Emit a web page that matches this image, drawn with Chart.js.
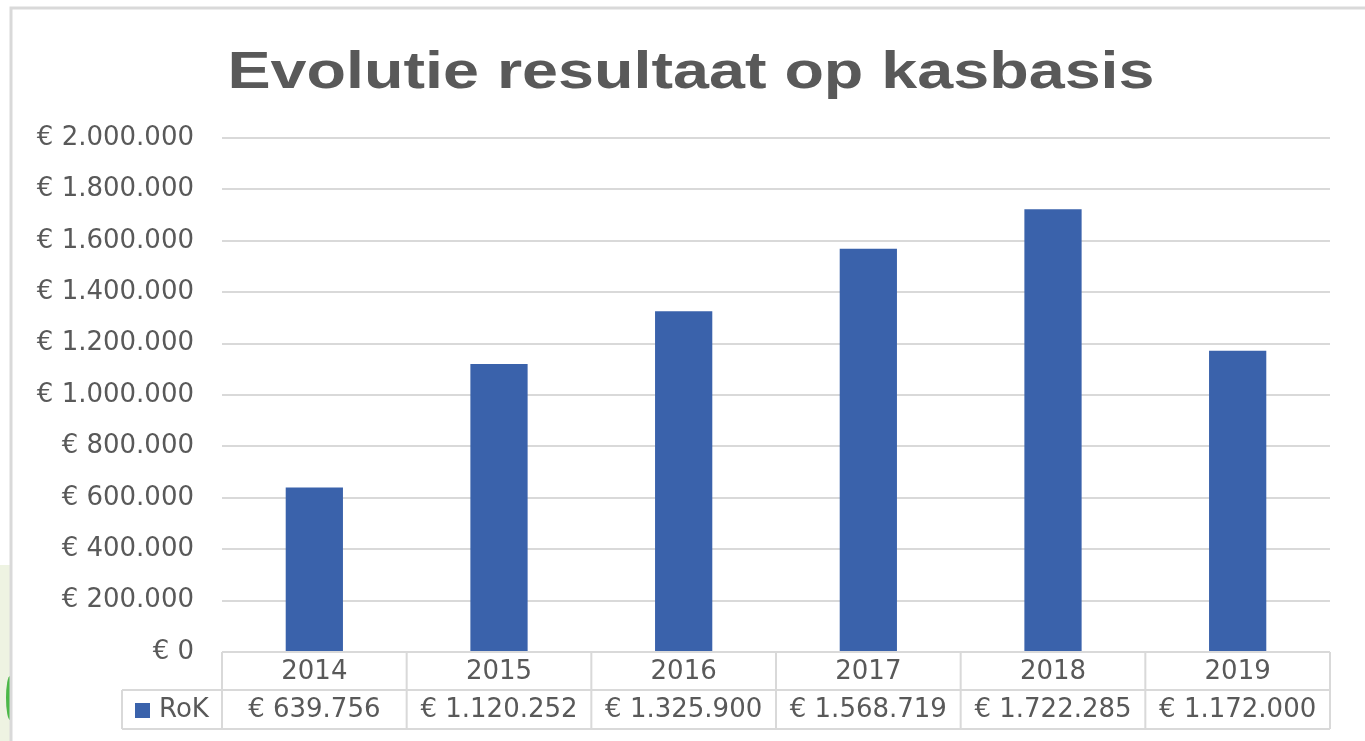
<!DOCTYPE html>
<html>
<head>
<meta charset="utf-8">
<script src="https://cdn.jsdelivr.net/npm/chart.js@4.4.0/dist/chart.umd.min.js"></script>
<style>
  html, body { margin: 0; padding: 0; background: #fff; }
  #wrap { width: 1365px; height: 741px; position: relative; }
</style>
</head>
<body>
<div id="wrap"><canvas id="kasChart" width="1365" height="741"></canvas></div>
<script>
const years = ['2014', '2015', '2016', '2017', '2018', '2019'];
const rokValues = [639756, 1120252, 1325900, 1568719, 1722285, 1172000];
const seriesName = 'RoK';
const chartTitle = 'Evolutie resultaat op kasbasis';

const barColor = '#3A62AB';
const textColor = '#595959';
const lineColor = '#D9D9D9';
const tickFont = '26px "DejaVu Sans"';

function euro(v) {
    return '€ ' + Math.round(v).toString().replace(/\B(?=(\d{3})+(?!\d))/g, '.');
}

// frame, title and the data table under the bars
const decor = {
    id: 'decor',
    beforeDraw(chart) {
        const c = chart.ctx;
        c.save();
        // light green patch at the bottom left
        c.fillStyle = '#EEF3E2';
        c.fillRect(0, 565, 10, 176);
        c.fillStyle = '#4CB848';
        c.beginPath();
        c.ellipse(10, 698, 4, 22, 0, Math.PI / 2, Math.PI * 1.5);
        c.fill();
        // frame
        c.strokeStyle = lineColor;
        c.lineWidth = 3;
        c.beginPath();
        c.moveTo(11, 741);
        c.lineTo(11, 8);
        c.lineTo(1365, 8);
        c.stroke();
        c.restore();
    },
    afterDraw(chart) {
        const c = chart.ctx;
        const area = chart.chartArea;
        const x = chart.scales.x;
        const step = (area.right - area.left) / years.length;
        const row1 = area.bottom, row2 = area.bottom + 38, row3 = area.bottom + 77;
        const legLeft = 122;

        c.save();
        // title
        c.fillStyle = textColor;
        c.font = 'bold 52px "Liberation Sans"';
        c.textAlign = 'center';
        c.textBaseline = 'alphabetic';
        const w = c.measureText(chartTitle).width;
        c.translate(691, 88);
        c.scale(927 / w, 1);
        c.fillText(chartTitle, 0, 0);
        c.restore();

        c.save();
        c.strokeStyle = lineColor;
        c.lineWidth = 2;
        c.beginPath();
        c.moveTo(area.left, row1); c.lineTo(area.right, row1);
        c.moveTo(legLeft, row2); c.lineTo(area.right, row2);
        c.moveTo(legLeft, row3); c.lineTo(area.right, row3);
        c.moveTo(legLeft, row2); c.lineTo(legLeft, row3);
        for (let i = 0; i <= years.length; i++) {
            const px = area.left + i * step;
            c.moveTo(px, row1); c.lineTo(px, row3);
        }
        c.stroke();

        c.fillStyle = textColor;
        c.font = tickFont;
        c.textAlign = 'center';
        c.textBaseline = 'middle';
        years.forEach((y, i) => {
            const cx = x.getPixelForValue(i);
            c.fillText(y, cx, (row1 + row2) / 2 + 1);
            c.fillText(euro(rokValues[i]), cx, (row2 + row3) / 2 + 1);
        });

        // legend key
        c.fillStyle = barColor;
        c.fillRect(135, 703, 15, 15);
        c.fillStyle = textColor;
        c.textAlign = 'left';
        c.fillText(seriesName, 159, (row2 + row3) / 2 + 1);
        c.restore();
    }
};

new Chart(document.getElementById('kasChart'), {
    type: 'bar',
    data: {
        labels: years,
        datasets: [{
            label: seriesName,
            data: rokValues,
            backgroundColor: barColor,
            borderWidth: 0,
            categoryPercentage: 1,
            barPercentage: 0.31
        }]
    },
    options: {
        responsive: false,
        animation: false,
        layout: { padding: { top: 138, right: 35, bottom: 89, left: 0 } },
        plugins: {
            legend: { display: false },
            title: { display: false },
            tooltip: { enabled: false }
        },
        scales: {
            x: {
                display: false
            },
            y: {
                min: 0,
                max: 2000000,
                ticks: {
                    stepSize: 200000,
                    color: textColor,
                    font: { family: 'DejaVu Sans', size: 26 },
                    padding: 28,
                    callback: v => euro(v)
                },
                grid: { color: lineColor, lineWidth: 2, drawTicks: false },
                border: { display: false },
                afterFit: s => { s.width = 222; }
            }
        }
    },
    plugins: [decor]
});
</script>
</body>
</html>
